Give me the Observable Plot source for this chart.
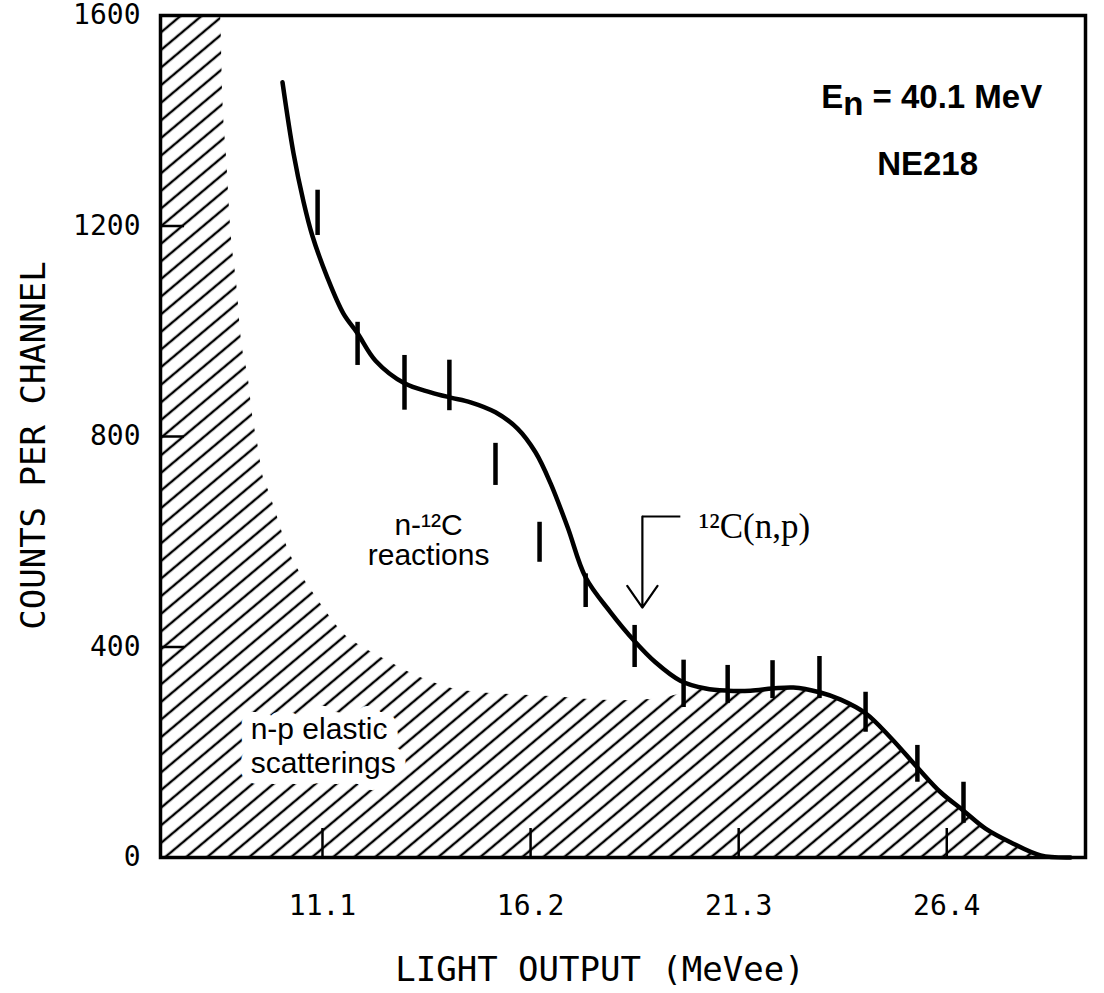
<!DOCTYPE html>
<html>
<head>
<meta charset="utf-8">
<script src="https://cdn.jsdelivr.net/npm/d3@7"></script>
<script src="https://cdn.jsdelivr.net/npm/@observablehq/plot@0.6"></script>
<style>
  html, body { margin: 0; padding: 0; background: #fff; }
</style>
</head>
<body>
<div id="chart"></div>
<script>
// Light-output spectrum of an NE218 scintillator exposed to 40.1 MeV neutrons.

// Measured points (centre and half-length of each error bar)
const pointLight = [10.98, 11.96, 13.11, 14.21, 15.34, 16.42, 17.55, 18.75, 19.95, 21.03, 22.13, 23.28, 24.41, 25.68, 26.81];
const pointCounts = [1225, 976, 902, 897, 747, 599, 507, 401, 330, 329, 338, 342, 276, 178, 104];
const pointErr = [43, 41, 52, 48, 40, 38, 32, 40, 45, 36, 36, 40, 38, 35, 39];

// Total response curve
const curveLight = [10.12, 10.39, 10.63, 10.85, 11.22, 11.61, 11.96, 12.40, 13.11, 13.75, 14.24, 14.73, 15.34, 15.88, 16.32, 16.69, 17.11, 17.55, 18.16, 18.75, 19.26, 19.87, 20.49, 21.03, 21.59, 22.13, 22.64, 23.28, 23.80, 24.41, 25.02, 25.68, 26.25, 26.81, 27.35, 27.96, 28.70, 29.43];
const curveCounts = [1473, 1338, 1248, 1182, 1102, 1034, 996, 944, 901, 884, 874, 865, 846, 815, 770, 711, 627, 532, 466, 411, 371, 336, 321, 317, 317, 321, 323, 314, 300, 274, 228, 171, 124, 89, 55, 29, 4, 0];

// Upper edge of the n-p elastic scattering contribution (hatched)
const npLight = [7.13, 8.60, 8.65, 8.75, 8.85, 9.02, 9.09, 9.29, 9.38, 9.51, 9.65, 9.78, 10.00, 10.24, 10.56, 10.88, 11.22, 11.61, 12.10, 12.69, 13.50, 14.56, 16.69, 18.40, 19.38, 20.49, 21.03, 21.59, 22.13, 22.64, 23.28, 23.80, 24.41, 25.02, 25.68, 26.25, 26.81, 27.35, 27.96, 28.70, 29.43];
const npCounts = [1600, 1600, 1457, 1330, 1197, 1072, 1001, 906, 844, 787, 722, 697, 646, 589, 540, 502, 464, 426, 399, 374, 342, 317, 306, 298, 302, 321, 317, 317, 321, 323, 314, 300, 274, 228, 171, 124, 89, 55, 29, 4, 0];

// Axis ticks
const xTicks = [11.1, 16.2, 21.3, 26.4];
const yTicks = [0, 400, 800, 1200, 1600];
const yInnerTicks = [400, 800, 1200];

// Annotations
const noteText = ["n-p elastic\nscatterings", "n-\u00b9\u00b2C\nreactions", "\u00b9\u00b2C(n,p)", "En = 40.1 MeV", "NE218"];
const noteLight = [9.34, 13.70, 20.32, 26.03, 25.93];
const noteCounts = [161, 555, 608, 1425, 1296];

// 12C(n,p) pointer: elbow corner / tail end, and arrow tip
const pointerLight = [18.94, 19.87];
const pointerCounts = [648, 475];

const xLabel = "LIGHT OUTPUT (MeVee)";
const yLabel = "COUNTS PER CHANNEL";

// ---- layout ----
const W = 1104, H = 993;
const M = {left: 160, right: 19, top: 15, bottom: 136};
const xDomain = [7.13, 29.8];
const yDomain = [0, 1600];
const pxPerX = (W - M.left - M.right) / (xDomain[1] - xDomain[0]);
const pxPerY = (H - M.top - M.bottom) / (yDomain[1] - yDomain[0]);
const yTickLen = 24 / pxPerX;   // inward tick length on the left axis
const xTickLen = 29 / pxPerY;   // inward tick length on the bottom axis

const points = pointLight.map((x, i) => ({x, c: pointCounts[i], e: pointErr[i]}));
const curve = curveLight.map((x, i) => ({x, y: curveCounts[i]}));
const np = npLight.map((x, i) => ({x, y: npCounts[i]}));

const sans = "'Liberation Sans', Arial, sans-serif";
const mono = "'DejaVu Sans Mono', monospace";
const serif = "'Liberation Serif', 'Times New Roman', serif";

const svg = Plot.plot({
  width: W,
  height: H,
  marginLeft: M.left,
  marginRight: M.right,
  marginTop: M.top,
  marginBottom: M.bottom,
  x: {domain: xDomain},
  y: {domain: yDomain},
  style: {background: "white", color: "black", fontFamily: mono, fontSize: "28px", overflow: "visible"},
  marks: [
    Plot.areaY(np, {x: "x", y: "y", fill: "url(#np-hatch)", curve: "monotone-x"}),
    Plot.frame({stroke: "black", strokeWidth: 3.5}),
    Plot.ruleY(yInnerTicks, {y: d => d, x1: xDomain[0], x2: xDomain[0] + yTickLen, strokeWidth: 2.5}),
    Plot.ruleX(xTicks, {x: d => d, y1: 0, y2: xTickLen, strokeWidth: 2.5}),
    Plot.axisY(yTicks, {tickSize: 0, tickPadding: 20, fontSize: 28, fontFamily: mono, label: null, tickFormat: d => String(d)}),
    Plot.axisX(xTicks, {tickSize: 0, tickPadding: 38, fontSize: 28, fontFamily: mono, label: null, tickFormat: d => d.toFixed(1)}),
    Plot.text([yLabel], {frameAnchor: "left", dx: -126, dy: 9, rotate: -90, textAnchor: "middle", lineAnchor: "middle", fontSize: 34, fontFamily: mono}),
    Plot.text([xLabel], {frameAnchor: "bottom", dx: -23, dy: 113, textAnchor: "middle", lineAnchor: "middle", fontSize: 34, fontFamily: mono}),
    // n-p label clears the hatching behind it
    Plot.text([0], {x: i => noteLight[i], y: i => noteCounts[i], text: i => noteText[i], textAnchor: "start", lineAnchor: "bottom", lineHeight: 1.13, fontSize: 30, fontFamily: sans, fill: "black", stroke: "white", strokeWidth: 22, strokeLinejoin: "round"}),
    Plot.text([1], {x: i => noteLight[i], y: i => noteCounts[i], text: i => noteText[i], textAnchor: "middle", lineAnchor: "bottom", lineHeight: 1.0, fontSize: 30, fontFamily: sans}),
    Plot.text([2], {x: i => noteLight[i], y: i => noteCounts[i], text: i => noteText[i], textAnchor: "start", lineAnchor: "bottom", fontSize: 35, fontFamily: serif}),
    Plot.text([3, 4], {x: i => noteLight[i], y: i => noteCounts[i], text: i => noteText[i], textAnchor: "middle", lineAnchor: "bottom", fontSize: 33, fontWeight: "bold", fontFamily: sans}),
    // pointer to the 12C(n,p) edge
    Plot.link([0], {x1: pointerLight[1], x2: pointerLight[0], y1: pointerCounts[0], y2: pointerCounts[0], strokeWidth: 2.2}),
    Plot.arrow([0], {x1: pointerLight[0], x2: pointerLight[0], y1: pointerCounts[0], y2: pointerCounts[1], strokeWidth: 2.2, headLength: 18, headAngle: 70}),
    // response curve and data
    Plot.line(curve, {x: "x", y: "y", curve: "catmull-rom", strokeWidth: 4.5, strokeLinecap: "round", strokeLinejoin: "round"}),
    Plot.ruleX(points, {x: "x", y1: d => d.c - d.e, y2: d => d.c + d.e, strokeWidth: 4.5})
  ]
});

// diagonal hatch used for the n-p elastic region
const defs = d3.select(svg).insert("defs", ":first-child");
const pat = defs.append("pattern")
  .attr("id", "np-hatch")
  .attr("patternUnits", "userSpaceOnUse")
  .attr("width", 20)
  .attr("height", 13.5)
  .attr("patternTransform", "rotate(-40)");
pat.append("line")
  .attr("x1", -1).attr("x2", 21)
  .attr("y1", 6.75).attr("y2", 6.75)
  .attr("stroke", "black")
  .attr("stroke-width", 2.4);

// subscript n in E_n
d3.select(svg).selectAll("text")
  .filter(function () { return this.textContent === noteText[3] && this.childElementCount === 0; })
  .each(function () {
    const t = d3.select(this);
    t.text(null);
    t.append("tspan").text("E");
    t.append("tspan").attr("dy", "0.22em").text("n");
    t.append("tspan").attr("dy", "-0.22em").text(" = 40.1 MeV");
  });

document.getElementById("chart").appendChild(svg);
</script>
</body>
</html>
